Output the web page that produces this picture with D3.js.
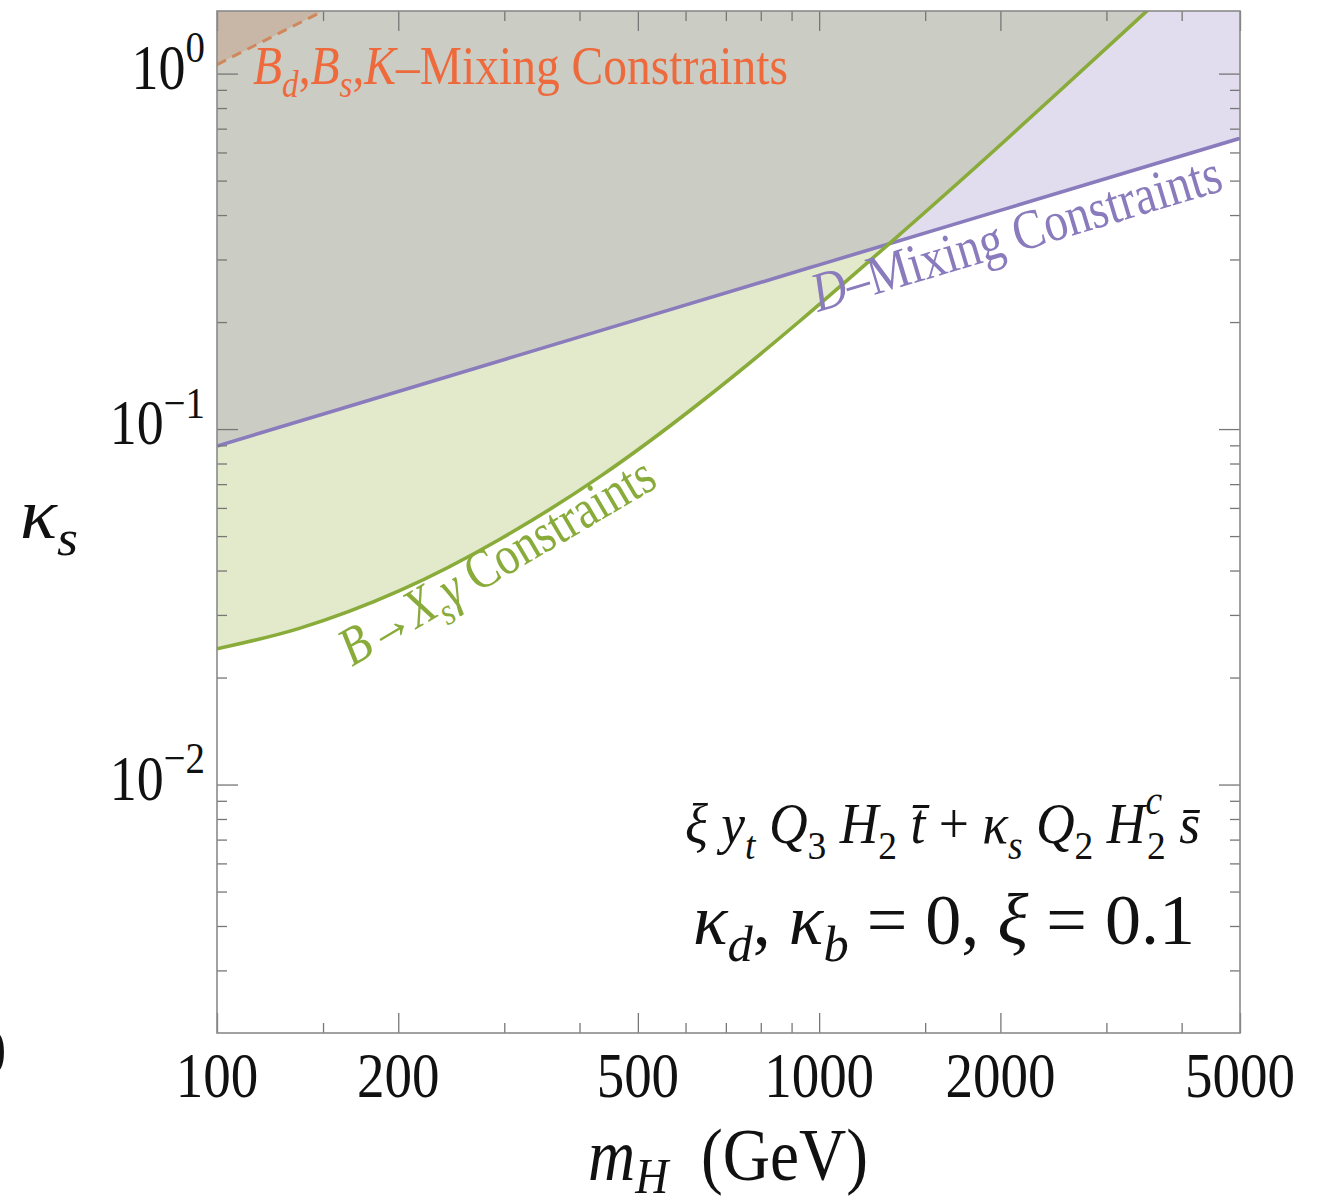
<!DOCTYPE html>
<html>
<head>
<meta charset="utf-8">
<script src="https://cdn.jsdelivr.net/npm/d3@7"></script>
<style>
  body { margin: 0; background: #fff; }
  svg { display: block; }
</style>
</head>
<body>
<svg id="chart" width="1328" height="1204"></svg>
<script>
// Charged-Higgs mass ticks
const massTicks = [100, 150, 200, 300, 400, 500, 600, 700, 800, 900, 1000, 1500, 2000, 3000, 4000, 5000];
const massLabels = [100, 200, 500, 1000, 2000, 5000];
const kappaMajor = [1, 0.1, 0.01];

// B -> X_s gamma upper bound on kappa_s
const bxsgMass  = [100, 137, 201, 295, 433, 634, 930, 1362, 1997, 3518, 3826];
const bxsgKappa = [0.0241, 0.0275, 0.0351, 0.0490, 0.0736, 0.1186, 0.2017, 0.3531, 0.6286, 1.511, 1.724];

// D-meson mixing upper bound on kappa_s
const dmixMass  = [100, 200, 500, 1000, 2000, 5000];
const dmixKappa = [0.0896, 0.1276, 0.2035, 0.2897, 0.4123, 0.6577];

// B_d, B_s, K mixing bound (only reaches the corner)
const bbkMass  = [100, 150];
const bbkKappa = [1.06, 1.50];

const SERIF = "'Liberation Serif', 'Times New Roman', serif";
const STRETCH = 1.16;

const svg = d3.select("#chart");
const L = 217, R = 1240, T = 11, B = 1033;

const x = d3.scaleLog().domain([100, 5000]).range([L, R]);
const y = d3.scaleLog().domain([0.002, 1.5]).range([B, T]);

const defs = svg.append("defs");
defs.append("clipPath").attr("id", "plotClip")
  .append("rect").attr("x", L).attr("y", T).attr("width", R - L).attr("height", B - T);

const zip = (ms, ks) => ms.map((m, i) => ({ m, k: ks[i] }));
const bxsg = zip(bxsgMass, bxsgKappa);
const dmix = zip(dmixMass, dmixKappa);
const bbk  = zip(bbkMass, bbkKappa);

const areaAbove = d3.area()
  .x(d => x(d.m)).y0(T - 30).y1(d => y(d.k))
  .curve(d3.curveNatural);
const lineOf = d3.line()
  .x(d => x(d.m)).y(d => y(d.k))
  .curve(d3.curveNatural);

// region excluded by B -> X_s gamma, used to carve out the overlap
defs.append("clipPath").attr("id", "bxsgClip")
  .append("path").attr("d", areaAbove(bxsg));

const plotG = svg.append("g").attr("clip-path", "url(#plotClip)");

plotG.append("path").attr("d", areaAbove(bxsg)).attr("fill", "#e3eacc");
plotG.append("path").attr("d", areaAbove(dmix)).attr("fill", "#e1ddee");
plotG.append("g").attr("clip-path", "url(#bxsgClip)")
  .append("path").attr("d", areaAbove(dmix)).attr("fill", "#cbccc4");
plotG.append("path").attr("d", areaAbove(bbk)).attr("fill", "#c8b7a6");

plotG.append("path").attr("d", lineOf(dmix))
  .attr("fill", "none").attr("stroke", "#8a7bbd").attr("stroke-width", 3.6);
plotG.append("path").attr("d", lineOf(bxsg))
  .attr("fill", "none").attr("stroke", "#89ab3a").attr("stroke-width", 3.6);
plotG.append("path").attr("d", lineOf(bbk))
  .attr("fill", "none").attr("stroke", "#d0875c").attr("stroke-width", 3)
  .attr("stroke-dasharray", "10,7");

// ---- axes: ticks pointing inward on all four sides ----
const minorMass = massTicks.filter(v => !massLabels.includes(v));
const kappaAll = y.ticks().filter(v => v > 0.002 * 1.0001 && v < 1.5);
const minorKappa = kappaAll.filter(v => !kappaMajor.some(k => Math.abs(k - v) / k < 1e-6));

function styleAxis(g) {
  g.select(".domain").remove();
  g.selectAll(".tick line").attr("stroke", "#777").attr("stroke-width", 1.3);
  g.selectAll(".tick text").remove();
}
const axes = svg.append("g");
[[massLabels, 20], [minorMass, 10]].forEach(([vals, len]) => {
  axes.append("g").attr("transform", `translate(0,${B})`)
    .call(d3.axisBottom(x).tickValues(vals).tickSize(-len)).call(styleAxis);
  axes.append("g").attr("transform", `translate(0,${T})`)
    .call(d3.axisTop(x).tickValues(vals).tickSize(-len)).call(styleAxis);
});
[[kappaMajor, 21], [minorKappa, 10]].forEach(([vals, len]) => {
  axes.append("g").attr("transform", `translate(${L},0)`)
    .call(d3.axisLeft(y).tickValues(vals).tickSize(-len)).call(styleAxis);
  axes.append("g").attr("transform", `translate(${R},0)`)
    .call(d3.axisRight(y).tickValues(vals).tickSize(-len)).call(styleAxis);
});

svg.append("rect").attr("x", L).attr("y", T).attr("width", R - L).attr("height", B - T)
  .attr("fill", "none").attr("stroke", "#8a8a8a").attr("stroke-width", 1.6);

// ---- rich text helper (italics, sub/superscripts) ----
function rich(parent, parts, o) {
  const g = parent.append("g")
    .attr("transform", `translate(${o.x},${o.y}) rotate(${o.rot || 0}) scale(1,${STRETCH})`);
  const t = g.append("text")
    .attr("font-family", SERIF).attr("font-size", o.size)
    .attr("fill", o.color || "#111").attr("text-anchor", o.anchor || "start");
  if (o.len) t.attr("textLength", o.len).attr("lengthAdjust", "spacingAndGlyphs");
  let shift = 0;
  parts.forEach(p => {
    const s = p.sub ? o.size * (o.subDrop || 0.24) : p.sup ? -o.size * (o.supRise || 0.42) : 0;
    const ts = t.append("tspan").text(p.t)
      .attr("dy", s - shift)
      .attr("font-style", p.it ? "italic" : "normal")
      .attr("font-size", (p.sub || p.sup) ? o.size * (o.scriptRatio || 0.7) : o.size);
    if (p.dx) ts.attr("dx", p.dx);
    shift = s;
  });
  return t;
}

const labels = svg.append("g");

// x tick labels
massLabels.forEach(v => {
  rich(labels, [{ t: String(v) }], { x: x(v), y: 1097, size: 55, anchor: "middle" });
});
// y tick labels as powers of ten
kappaMajor.forEach(v => {
  const e = Math.round(Math.log10(v));
  rich(labels, [{ t: "10" }, { t: e === 0 ? "0" : "\u2212" + Math.abs(e), sup: true }],
    { x: 205, y: y(v) + 15, size: 54, anchor: "end", scriptRatio: 0.72 });
});

// axis titles
rich(labels, [{ t: "m", it: true }, { t: "H", it: true, sub: true }, { t: "\u2002(GeV)" }],
  { x: 728, y: 1180, size: 63, anchor: "middle", len: 280, subDrop: 0.18 });
rich(labels, [{ t: "\u03ba", it: true }, { t: "s", it: true, sub: true }],
  { x: 20, y: 538, size: 62, len: 58 });

// constraint labels
rich(labels, [
  { t: "B", it: true }, { t: "d", it: true, sub: true }, { t: "," },
  { t: "B", it: true }, { t: "s", it: true, sub: true }, { t: "," },
  { t: "K", it: true }, { t: "\u2013Mixing Constraints" }
], { x: 253, y: 84, size: 47, color: "#ee6a3c", len: 535 });

rich(labels, [{ t: "D", it: true }, { t: "\u2013Mixing Constraints" }],
  { x: 818, y: 312, size: 48, color: "#8a7bbd", rot: -16.7, len: 425 });

rich(labels, [
  { t: "B", it: true }, { t: "\u2192" }, { t: "X", it: true }, { t: "s", it: true, sub: true },
  { t: "\u03b3", it: true }, { t: " Constraints" }
], { x: 352, y: 667, size: 47, color: "#89ab3a", rot: -30.5, len: 357 });

// Lagrangian and benchmark parameters
rich(labels, [
  { t: "\u03be", it: true }, { t: " " }, { t: "y", it: true }, { t: "t", it: true, sub: true },
  { t: " " }, { t: "Q", it: true }, { t: "3", sub: true },
  { t: " " }, { t: "H", it: true }, { t: "2", sub: true },
  { t: " " }, { t: "t\u0304", it: true }, { t: " + " },
  { t: "\u03ba", it: true }, { t: "s", it: true, sub: true },
  { t: " " }, { t: "Q", it: true }, { t: "2", sub: true },
  { t: " " }, { t: "H", it: true }, { t: "c", it: true, sup: true }, { t: "2", sub: true, dx: -14 },
  { t: " " }, { t: "s\u0304", it: true }
], { x: 1200, y: 843, size: 50, anchor: "end", len: 515, supRise: 0.5, subDrop: 0.28 });

rich(labels, [
  { t: "\u03ba", it: true }, { t: "d", it: true, sub: true }, { t: ", " },
  { t: "\u03ba", it: true }, { t: "b", it: true, sub: true }, { t: " = 0, " },
  { t: "\u03be", it: true }, { t: " = 0.1" }
], { x: 1195, y: 944, size: 62, anchor: "end", len: 502 });

// clipped glyph at the left margin
rich(labels, [{ t: "0" }], { x: 6, y: 1073, size: 54, anchor: "end" });
</script>
</body>
</html>
